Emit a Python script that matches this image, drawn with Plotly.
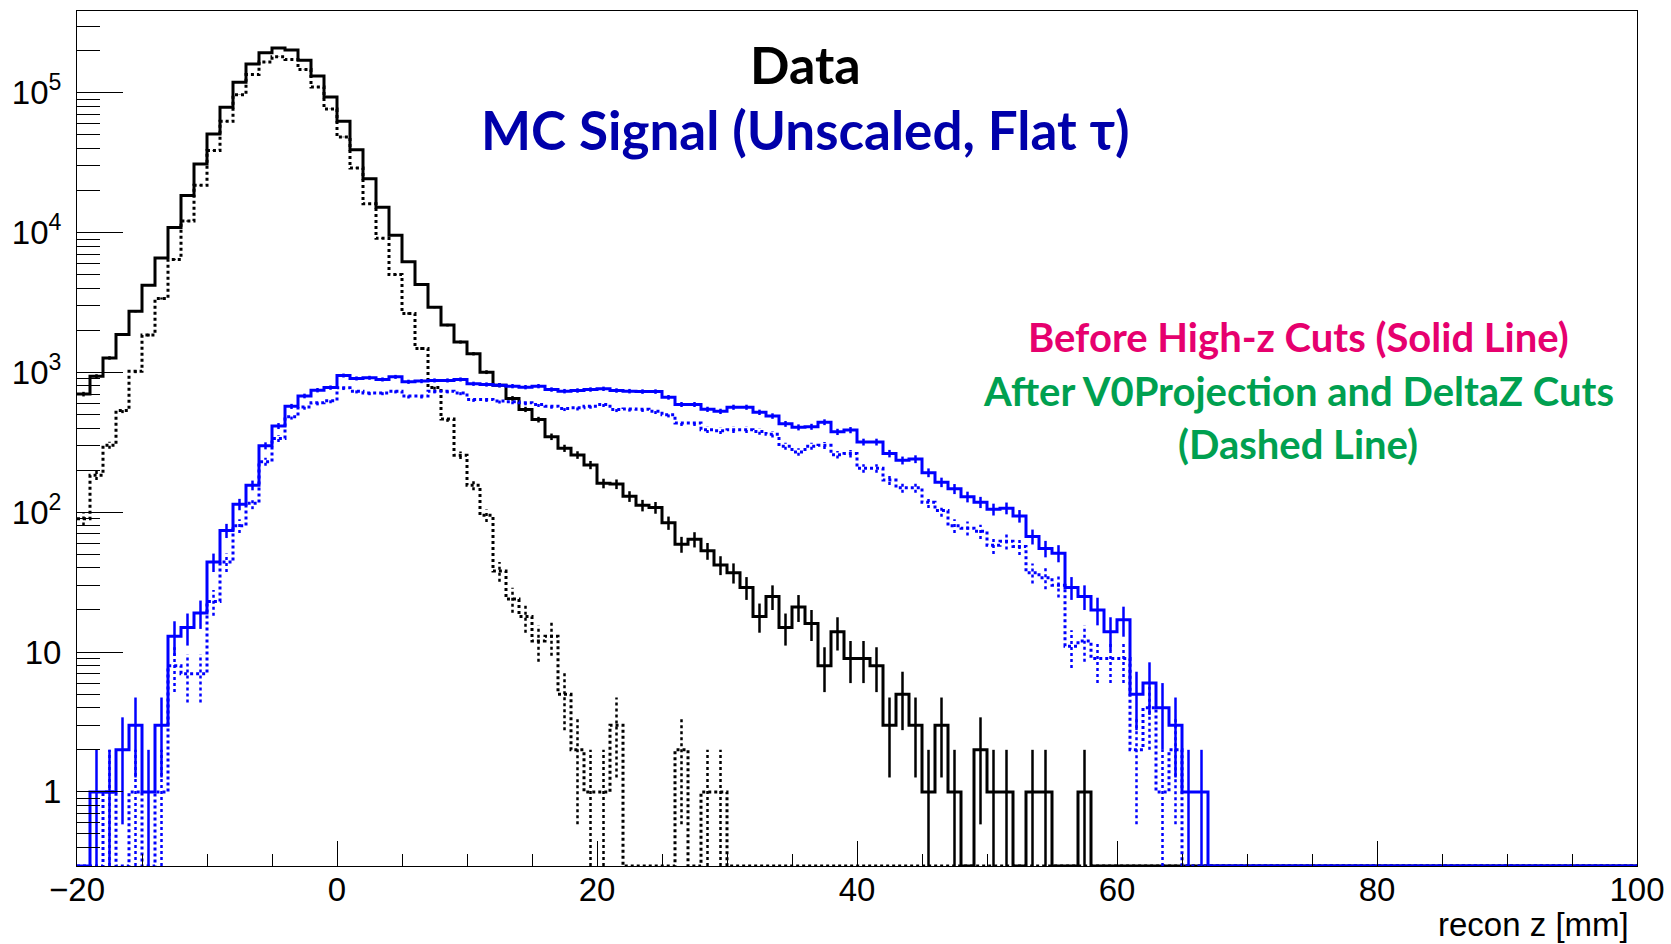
import math
import plotly.graph_objects as go

# ---------------- data (1 mm bins from -20 to 100 mm) ----------------
bin_low = -20
bin_width = 1
n_bins = 120

# Data before high-z cuts (black solid)
data_before = [
    700, 940, 1270, 1870, 2740, 4210, 6590, 10900, 18400, 31000,
    50800, 78700, 119000, 161000, 193000, 209000, 202000, 171000, 132000, 93300,
    62500, 39200, 24300, 15200, 9570, 6180, 4250, 2930, 2180, 1650,
    1360, 1005, 811, 652, 544, 460, 347, 287, 257, 218,
    161, 159, 130, 112, 108, 84, 59, 64, 53, 42,
    37, 29, 18, 25, 15, 21, 16, 8, 14, 9,
    9, 8, 3, 5, 3, 1, 3, 1, 0, 2,
    1, 1, 0, 1, 1, 0, 0, 1, 0, 0,
] + [0] * 40

# Data after V0Projection and DeltaZ cuts (black dotted)
data_after = [
    90, 184, 302, 535, 1020, 1850, 3380, 6430, 12100, 21800,
    38600, 62500, 97000, 135000, 166000, 181000, 173000, 147000, 110000, 76700,
    48300, 29000, 16100, 9100, 5010, 2640, 1485, 780, 465, 256,
    156, 95, 38, 24, 18, 12, 13, 5, 2, 1,
    1, 3, 0, 0, 0, 0, 2, 0, 1, 1,
] + [0] * 70

# MC signal before high-z cuts (blue solid)
mc_before = [
    0, 1, 1, 2, 3, 1, 3, 13, 15, 19,
    44, 74, 114, 156, 299, 414, 572, 679, 747, 779,
    951, 906, 916, 891, 930, 858, 867, 877, 877, 891,
    830, 820, 811, 798, 785, 798, 755, 735, 743, 755,
    764, 743, 735, 730, 730, 664, 590, 590, 545, 527,
    564, 564, 519, 488, 429, 405, 409, 441, 376, 387,
    318, 318, 263, 235, 240, 192, 164, 147, 129, 118,
    105, 107, 94, 67, 55, 51, 29, 25, 20, 14,
    17, 5, 6, 4, 3, 1, 1, 0, 0, 0,
] + [0] * 30

# MC signal after cuts (blue dotted)
mc_after = [
    0, 0, 1, 0, 1, 0, 1, 8, 7, 7,
    23, 44, 80, 116, 230, 337, 482, 565, 606, 627,
    776, 735, 714, 714, 735, 677, 677, 735, 735, 714,
    641, 641, 624, 617, 607, 590, 574, 553, 558, 574,
    590, 544, 548, 545, 527, 499, 435, 435, 389, 383,
    389, 389, 378, 362, 297, 270, 297, 301, 258, 263,
    206, 206, 170, 150, 150, 118, 103, 80, 77, 73,
    58, 62, 57, 37, 34, 30, 11, 12, 9, 9,
    9, 2, 4, 1, 2, 0, 0, 0, 0, 0,
] + [0] * 30

x_tick_vals = [-20, 0, 20, 40, 60, 80, 100]
x_tick_text = ["\u221220", "0", "20", "40", "60", "80", "100"]
y_tick_vals = [1, 10, 100, 1000, 10000, 100000]
y_tick_text = ["1", "10", "10<sup>2</sup>", "10<sup>3</sup>", "10<sup>4</sup>", "10<sup>5</sup>"]

# ---------------- helpers ----------------
y_log_min = -0.53
y_log_max = 5.585
floor = 10 ** y_log_min
edges = [bin_low + i * bin_width for i in range(n_bins + 1)]
centers = [bin_low + (i + 0.5) * bin_width for i in range(n_bins)]


def step_xy(vals):
    ys = [v if v > 0 else floor for v in vals]
    return edges, ys + [ys[-1]]


def err_xy(vals):
    xs, ys = [], []
    for c, v in zip(centers, vals):
        if v <= 0:
            continue
        e = math.sqrt(v)
        lo = v - e
        if lo <= floor:
            lo = floor
        xs += [c, c, None]
        ys += [lo, v + e, None]
    return xs, ys


fig = go.Figure()
series = [
    (data_before, "black", "solid"),
    (data_after, "black", "dot"),
    (mc_before, "#0000ff", "solid"),
    (mc_after, "#0000ff", "dot"),
]
for vals, col, dash in series:
    ex, ey = err_xy(vals)
    fig.add_trace(go.Scatter(x=ex, y=ey, mode="lines",
                             line=dict(color=col, width=2.5, dash=dash),
                             hoverinfo="skip", showlegend=False))
    sx, sy = step_xy(vals)
    fig.add_trace(go.Scatter(x=sx, y=sy, mode="lines",
                             line=dict(color=col, width=3, dash=dash, shape="hv"),
                             showlegend=False))

minor_y = []
for d in range(-1, 6):
    for m in range(2, 10):
        v = m * 10 ** d
        if y_log_min < math.log10(v) < y_log_max:
            minor_y.append(v)

tick_font = dict(family="Liberation Sans, Arial, sans-serif", size=33, color="black")

fig.update_layout(
    width=1671, height=944,
    margin=dict(l=77, r=34, t=11, b=78),
    paper_bgcolor="white", plot_bgcolor="white",
    showlegend=False,
    xaxis=dict(
        range=[bin_low, bin_low + n_bins * bin_width], automargin=False,
        tickmode="array", tickvals=x_tick_vals, ticktext=x_tick_text,
        ticks="inside", ticklen=25, tickwidth=1, tickcolor="black",
        minor=dict(dtick=5, tick0=0, ticks="inside", ticklen=12, tickwidth=1, tickcolor="black"),
        showline=True, linecolor="black", linewidth=1, mirror=True,
        showgrid=False, zeroline=False, tickfont=tick_font, ticklabelstandoff=-6,
    ),
    yaxis=dict(
        type="log", range=[y_log_min, y_log_max], automargin=False,
        tickmode="array", tickvals=y_tick_vals, ticktext=y_tick_text,
        ticks="inside", ticklen=46, tickwidth=1, tickcolor="black",
        minor=dict(tickmode="array", tickvals=minor_y, ticks="inside", ticklen=23,
                   tickwidth=1, tickcolor="black"),
        showline=True, linecolor="black", linewidth=1, mirror=True,
        showgrid=False, zeroline=False, tickfont=tick_font, ticklabelstandoff=8,
    ),
)

title_font = "Lato, 'Open Sans', sans-serif"
annos = [
    ("<b>Data</b>", 0.4667, 0.938, 52, "black"),
    ("<b>MC Signal (Unscaled, Flat \u03c4)</b>", 0.4667, 0.861, 53, "#0000aa"),
    ("<b>Before High-z Cuts (Solid Line)</b>", 0.783, 0.619, 40, "#e6006e"),
    ("<b>After V0Projection and DeltaZ Cuts</b>", 0.783, 0.556, 40, "#00a050"),
    ("<b>(Dashed Line)</b>", 0.783, 0.493, 40, "#00a050"),
]
for txt, x, y, sz, col in annos:
    fig.add_annotation(text=txt, xref="paper", yref="paper", x=x, y=y,
                       xanchor="center", yanchor="middle", showarrow=False,
                       font=dict(family=title_font, size=sz, color=col))

fig.add_annotation(text="recon z [mm]", xref="paper", yref="paper", x=0.996, y=-0.069,
                   xanchor="right", yanchor="middle", showarrow=False,
                   font=tick_font)

fig.write_html("out.html")
